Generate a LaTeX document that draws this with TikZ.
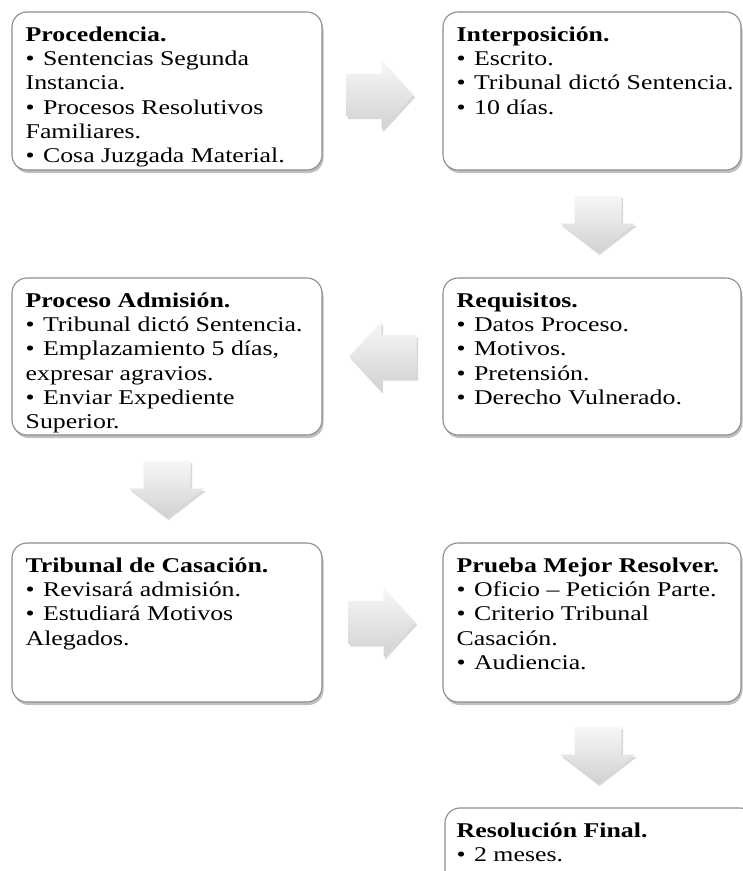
\documentclass[tikz,border=0pt]{standalone}
\usepackage{fontspec}
\setmainfont[FakeStretch=1.23]{Liberation Serif}
\usetikzlibrary{calc,shadows}
\newcommand\bul{•\hspace{0.40em}}
\begin{document}
\begin{tikzpicture}[x=1pt,y=-1pt,
  box/.style={draw=black!45, line width=1.1pt, rounded corners=15pt, fill=white, inner sep=0pt,
    drop shadow={shadow xshift=1.5pt, shadow yshift=-3pt, fill=black!55, opacity=0.45}},
  lbox/.style={box, minimum width=310pt},
  rbox/.style={box, minimum width=298pt},
  txt/.style={anchor=base west, inner sep=0pt, font=\fontsize{21}{24.2}\selectfont},
  arr/.style={top color=black!3, bottom color=black!18, draw=none},
  arrsh/.style={fill=black!30, opacity=0.5},
  rarr/.pic={
    \fill[arrsh] (-34+1.5,-21.5+2.5) -- (1+1.5,-21.5+2.5) -- (1+1.5,-35+2.5) -- (33+1.5,0+2.5) -- (1+1.5,35+2.5) -- (1+1.5,21.5+2.5) -- (-34+1.5,21.5+2.5) -- cycle;
    \shade[arr] (-34,-21.5) -- (1,-21.5) -- (1,-35) -- (33,0) -- (1,35) -- (1,21.5) -- (-34,21.5) -- cycle;},
  larr/.pic={
    \fill[arrsh] (34+1.5,-21.5+2.5) -- (-1+1.5,-21.5+2.5) -- (-1+1.5,-35+2.5) -- (-33+1.5,0+2.5) -- (-1+1.5,35+2.5) -- (-1+1.5,21.5+2.5) -- (34+1.5,21.5+2.5) -- cycle;
    \shade[arr] (34,-21.5) -- (-1,-21.5) -- (-1,-35) -- (-33,0) -- (-1,35) -- (-1,21.5) -- (34,21.5) -- cycle;},
  darr/.pic={
    \fill[arrsh] (-23.5+1.5,-28.5+2.5) -- (23.5+1.5,-28.5+2.5) -- (23.5+1.5,-0.5+2.5) -- (37.5+1.5,-0.5+2.5) -- (0+1.5,28.5+2.5) -- (-37.5+1.5,-0.5+2.5) -- (-23.5+1.5,-0.5+2.5) -- cycle;
    \shade[arr] (-23.5,-28.5) -- (23.5,-28.5) -- (23.5,-0.5) -- (37.5,-0.5) -- (0,28.5) -- (-37.5,-0.5) -- (-23.5,-0.5) -- cycle;}
]
\clip (0,0) rectangle (743,871);
\fill[white] (0,0) rectangle (743,871);

% boxes
\node[lbox, minimum height=158pt] (b1) at (167,91) {};
\node[rbox, minimum height=158pt] (b2) at (592,91) {};
\node[rbox, minimum height=157pt] (b3) at (592,356.5) {};
\node[lbox, minimum height=157pt] (b4) at (167,356.5) {};
\node[lbox, minimum height=159pt] (b5) at (167,622.5) {};
\node[rbox, minimum height=159pt] (b6) at (592,622.5) {};
\node[box, minimum width=310pt, minimum height=158pt] (b7) at (600,887) {};

% texts
\node[txt] (t1) at ($(b1.north west)+(14,30)$) {\parbox[t]{300pt}{\textbf{Procedencia.}\\
\bul Sentencias Segunda\\
Instancia.\\
\bul Procesos Resolutivos\\
Familiares.\\
\bul Cosa Juzgada Material.}};
\node[txt] (t2) at ($(b2.north west)+(14,30)$) {\parbox[t]{290pt}{\textbf{Interposición.}\\
\bul Escrito.\\
\bul Tribunal dictó Sentencia.\\
\bul 10 días.}};
\node[txt] (t3) at ($(b3.north west)+(14,30)$) {\parbox[t]{290pt}{\textbf{Requisitos.}\\
\bul Datos Proceso.\\
\bul Motivos.\\
\bul Pretensión.\\
\bul Derecho Vulnerado.}};
\node[txt] (t4) at ($(b4.north west)+(14,30)$) {\parbox[t]{300pt}{\textbf{Proceso Admisión.}\\
\bul Tribunal dictó Sentencia.\\
\bul Emplazamiento 5 días,\\
expresar agravios.\\
\bul Enviar Expediente\\
Superior.}};
\node[txt] (t5) at ($(b5.north west)+(14,30)$) {\parbox[t]{300pt}{\textbf{Tribunal de Casación.}\\
\bul Revisará admisión.\\
\bul Estudiará Motivos\\
Alegados.}};
\node[txt] (t6) at ($(b6.north west)+(14,30)$) {\parbox[t]{290pt}{\textbf{Prueba Mejor Resolver.}\\
\bul Oficio – Petición Parte.\\
\bul Criterio Tribunal\\
Casación.\\
\bul Audiencia.}};
\node[txt] (t7) at ($(b7.north west)+(12,30)$) {\parbox[t]{290pt}{\textbf{Resolución Final.}\\
\bul 2 meses.}};

% block arrows
\pic at ($(b1.east)!0.5!(b2.west)+(-2,4)$) {rarr};
\pic at ($(b2.south)!0.5!(b3.north)+(6,0)$) {darr};
\pic at ($(b3.west)!0.5!(b4.east)$) {larr};
\pic at ($(b4.south)!0.5!(b5.north)$) {darr};
\pic at ($(b5.east)!0.5!(b6.west)$) {rarr};
\pic at ($(b6.south)!0.5!(b6.south|-b7.north)+(6,0)$) {darr};
\end{tikzpicture}
\end{document}
